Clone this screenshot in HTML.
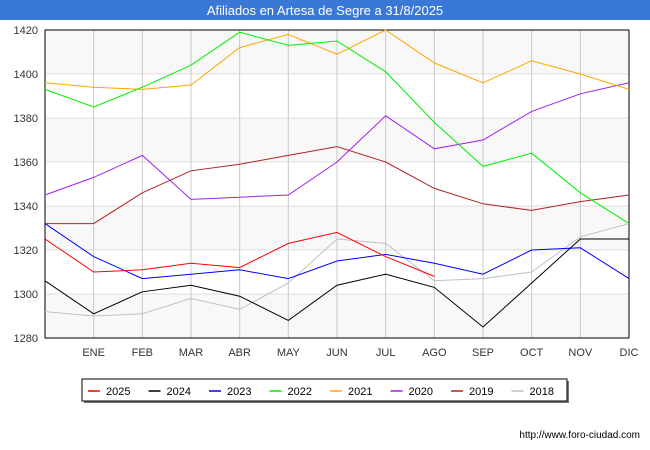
<!DOCTYPE html>
<html><head><meta charset="utf-8"><style>
body{margin:0;background:#fff;font-family:"Liberation Sans",sans-serif;}
svg{display:block}
</style></head><body>
<svg id="c" width="650" height="450" xmlns="http://www.w3.org/2000/svg" font-family="Liberation Sans, sans-serif">
<rect x="0" y="0" width="650" height="20" fill="#3a78d8"/>
<text x="325" y="15" text-anchor="middle" fill="#fff" font-size="13">Afiliados en Artesa de Segre a 31/8/2025</text>
<g id="plot"></g>
<text x="640" y="438" text-anchor="end" font-size="10" fill="#000">http://www.foro-ciudad.com</text>
</svg>
<script>
const months=["","ENE","FEB","MAR","ABR","MAY","JUN","JUL","AGO","SEP","OCT","NOV","DIC"];
const yTicks=[1280,1300,1320,1340,1360,1380,1400,1420];
const seriesNames=["2025","2024","2023","2022","2021","2020","2019","2018"];
const seriesColors=["#ff0000","#000000","#0000ff","#00ee00","#ffa500","#a020f0","#b22222","#c0c0c0"];
const s2025=[1325,1310,1311,1314,1312,1323,1328,1317,1308];
const s2024=[1306,1291,1301,1304,1299,1288,1304,1309,1303,1285,1305,1325,1325];
const s2023=[1332,1317,1307,1309,1311,1307,1315,1318,1314,1309,1320,1321,1307];
const s2022=[1393,1385,1394,1404,1419,1413,1415,1401,1378,1358,1364,1346,1332];
const s2021=[1396,1394,1393,1395,1412,1418,1409,1420,1405,1396,1406,1400,1393];
const s2020=[1345,1353,1363,1343,1344,1345,1360,1381,1366,1370,1383,1391,1396];
const s2019=[1332,1332,1346,1356,1359,1363,1367,1360,1348,1341,1338,1342,1345];
const s2018=[1292,1290,1291,1298,1293,1305,1325,1323,1306,1307,1310,1326,1332];
const allSeries=[s2025,s2024,s2023,s2022,s2021,s2020,s2019,s2018];

const X0=45,X1=629,Y0=30,Y1=338,VMIN=1280,VMAX=1420;
const xs=i=>X0+i*(X1-X0)/(months.length-1);
const ys=v=>Y1-(v-VMIN)/(VMAX-VMIN)*(Y1-Y0);
const NS="http://www.w3.org/2000/svg";
const g=document.getElementById('plot');
function mk(t,a){const e=document.createElementNS(NS,t);for(const k in a)e.setAttribute(k,a[k]);g.appendChild(e);return e;}
// bands
for(let i=0;i<yTicks.length-1;i++){
  if(i%2===0){const r=mk('rect',{x:X0,y:ys(yTicks[i+1]),width:X1-X0,height:ys(yTicks[i])-ys(yTicks[i+1]),fill:'#f8f8f8'});
  
  }
}
yTicks.forEach(v=>{
  const l=mk('line',{x1:X0,x2:X1,y1:ys(v),y2:ys(v),stroke:'#dddddd','stroke-width':1});
  
  
  const t=mk('text',{x:38,y:ys(v)+4,'text-anchor':'end','font-size':11,fill:'#333'});
  t.textContent=v;
  
  
});
months.forEach((m,i)=>{
  if(i>0&&i<months.length-1){const l=mk('line',{x1:xs(i),x2:xs(i),y1:Y0,y2:Y1,stroke:'#c8c8c8','stroke-width':1});
  
  }
  if(m){const t=mk('text',{x:xs(i),y:356,'text-anchor':'middle','font-size':11,fill:'#333'});
  t.textContent=m;
  
  }
});
const frame=mk('rect',{x:X0,y:Y0,width:X1-X0,height:Y1-Y0,fill:'none',stroke:'#000','stroke-width':1});


for(let k=allSeries.length-1;k>=0;k--){
  const d=allSeries[k].map((v,i)=>xs(i)+','+ys(v)).join(' ');
  const p=mk('polyline',{points:d,fill:'none',stroke:seriesColors[k],'stroke-width':1});
  
  
}
// legend
const sh=mk('rect',{x:84,y:381,width:485,height:22,fill:'#777'});


const lb=mk('rect',{x:82,y:379,width:485,height:22,fill:'#fff',stroke:'#000','stroke-width':1});


seriesNames.forEach((n,k)=>{
  const x=88+k*60.5;
  const l=mk('line',{x1:x,x2:x+12,y1:391,y2:391,stroke:seriesColors[k],'stroke-width':1.5});
  
  
  const t=mk('text',{x:x+18,y:395,'font-size':11,fill:'#000'});
  t.textContent=n;
  
  
});
</script>
</body></html>
